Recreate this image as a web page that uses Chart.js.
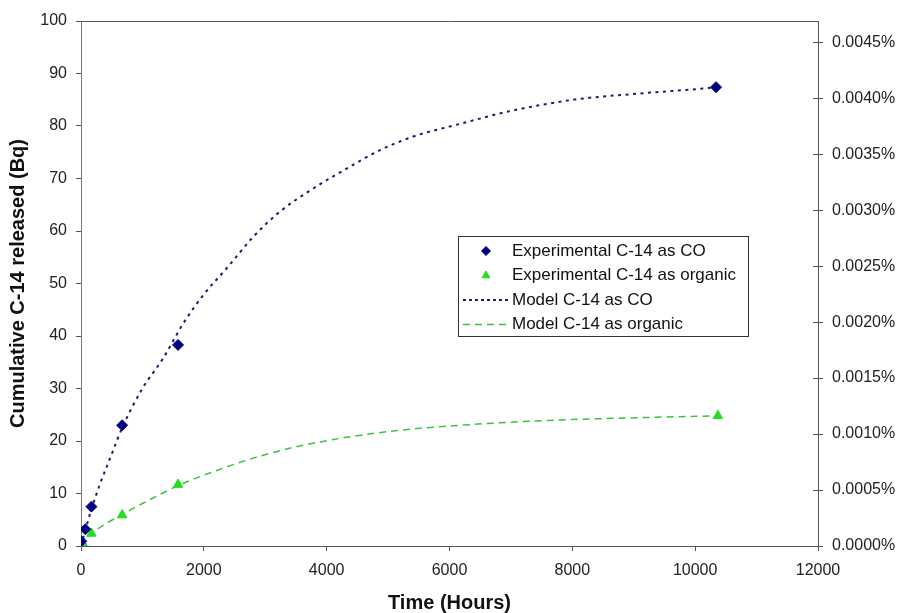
<!DOCTYPE html>
<html><head><meta charset="utf-8">
<script src="https://cdn.jsdelivr.net/npm/chart.js@4.4.1/dist/chart.umd.min.js"></script>
<style>html,body{margin:0;padding:0;background:#fff;}#wrap{width:903px;height:613px;position:relative;}</style>
</head><body><div id="wrap"><canvas id="c" width="903" height="613"></canvas></div>
<script>
// ---- data ----
const coExpTimes = [5, 70, 170, 670, 1580, 10340];
const coExpValues = [0.9, 3.2, 7.5, 23.0, 38.3, 87.4];
const orgExpTimes = [25, 170, 670, 1580, 10370];
const orgExpValues = [0.6, 2.4, 5.9, 11.7, 24.8];
const coModelTimes = [0, 70, 170, 300, 500, 670, 1000, 1340, 1666, 1991, 2372, 2806, 3240, 3782, 4326, 4868, 5410, 5899, 6170, 6931, 8016, 9101, 10187, 10340];
const coModelValues = [0, 3.0, 7.0, 11.5, 17.5, 22.5, 30.0, 35.8, 42.4, 47.8, 52.9, 58.9, 63.7, 68.1, 71.9, 75.4, 78.0, 79.6, 80.4, 82.7, 85.0, 86.2, 87.2, 87.4];
const orgModelTimes = [0, 30, 170, 400, 670, 1000, 1300, 1580, 2050, 2738, 3427, 4116, 5150, 6183, 7560, 8937, 10370];
const orgModelValues = [0, 0.4, 2.3, 4.2, 6.0, 8.1, 9.9, 11.5, 13.7, 16.5, 18.7, 20.3, 22.0, 23.0, 23.9, 24.4, 24.8];
const seriesLabels = ['Experimental C-14 as CO', 'Experimental C-14 as organic', 'Model C-14 as CO', 'Model C-14 as organic'];
const xTicks = [0, 2000, 4000, 6000, 8000, 10000, 12000];
const yTicks = [0, 10, 20, 30, 40, 50, 60, 70, 80, 90, 100];
const y2Ticks = [0, 0.0005, 0.0010, 0.0015, 0.0020, 0.0025, 0.0030, 0.0035, 0.0040, 0.0045];
const y2Max = 0.00469; // percent equivalent of 100 Bq

const pts = (xs, ys) => xs.map((x, i) => ({x, y: ys[i]}));
const FONT = "'Liberation Sans', Arial, sans-serif";
const AXIS = '#555';

const setTicks = arr => (s) => { s.ticks = arr.map(v => ({value: v})); };

const extras = {
  id: 'extras',
  afterDraw(chart) {
    const {ctx, chartArea: a} = chart;
    ctx.save();
    // top frame line
    ctx.strokeStyle = AXIS; ctx.lineWidth = 1;
    ctx.beginPath(); ctx.moveTo(a.left, a.top + 0.5); ctx.lineTo(a.right, a.top + 0.5); ctx.stroke();
    // inner half of right-axis cross ticks
    const s = chart.scales.y2;
    ctx.beginPath();
    s.ticks.forEach(t => { const y = Math.round(s.getPixelForValue(t.value)) + 0.5; ctx.moveTo(a.right - 5, y); ctx.lineTo(a.right, y); });
    ctx.stroke();
    // legend
    const L = {left: 458.5, top: 236.5, right: 748.5, bottom: 336.5};
    ctx.fillStyle = '#fff';
    ctx.fillRect(L.left, L.top, L.right - L.left, L.bottom - L.top);
    ctx.strokeStyle = '#333'; ctx.lineWidth = 1;
    ctx.strokeRect(L.left, L.top, L.right - L.left, L.bottom - L.top);
    const rows = [251, 275.5, 300, 324.5];
    ctx.font = '17px ' + FONT; ctx.textBaseline = 'middle'; ctx.fillStyle = '#111';
    chart.data.datasets.forEach((ds, i) => {
      const y = rows[i];
      if (ds.showLine) {
        ctx.save();
        ctx.strokeStyle = ds.borderColor; ctx.lineWidth = ds.borderWidth;
        ctx.setLineDash(ds.legendDash);
        ctx.beginPath(); ctx.moveTo(463, y); ctx.lineTo(508, y); ctx.stroke();
        ctx.restore();
      } else {
        ctx.save();
        ctx.fillStyle = ds.pointBackgroundColor; ctx.strokeStyle = ds.pointBorderColor;
        Chart.helpers.drawPoint(ctx, {pointStyle: ds.pointStyle, radius: 4.5, rotation: 0, borderWidth: 1}, 486, y);
        ctx.restore();
      }
      ctx.fillStyle = '#111';
      ctx.fillText(ds.label, 512, y);
    });
    ctx.restore();
  }
};

new Chart(document.getElementById('c'), {
  type: 'scatter',
  data: {
    datasets: [
      {label: seriesLabels[0], data: pts(coExpTimes, coExpValues), pointStyle: 'rectRot', pointRadius: 5.5,
       pointBackgroundColor: '#000080', pointBorderColor: '#000080', borderColor: '#000080', pointBorderWidth: 1, showLine: false},
      {label: seriesLabels[1], data: pts(orgExpTimes, orgExpValues), pointStyle: 'triangle', pointRadius: 5.5,
       pointBackgroundColor: '#22dd22', pointBorderColor: '#22dd22', borderColor: '#22dd22', pointBorderWidth: 1, showLine: false},
      {label: seriesLabels[2], data: pts(coModelTimes, coModelValues), showLine: true, pointRadius: 0,
       borderColor: '#1c1c72', borderWidth: 2, borderDash: [3, 4.5], legendDash: [3, 3], cubicInterpolationMode: 'monotone', fill: false},
      {label: seriesLabels[3], data: pts(orgModelTimes, orgModelValues), showLine: true, pointRadius: 0,
       borderColor: '#3cc43c', borderWidth: 1.5, borderDash: [7, 5], legendDash: [7, 5], cubicInterpolationMode: 'monotone', fill: false}
    ]
  },
  options: {
    responsive: false, animation: false,
    layout: {padding: {top: 21, left: 0, right: 0, bottom: 0}},
    plugins: {legend: {display: false}, tooltip: {enabled: false}},
    scales: {
      x: {
        type: 'linear', position: 'bottom', min: 0, max: 12000,
        afterBuildTicks: setTicks(xTicks),
        afterFit(s) { s.height = 67; },
        grid: {drawOnChartArea: false, drawTicks: true, tickLength: 5, color: AXIS},
        border: {display: true, color: AXIS, width: 1},
        ticks: {color: '#222', font: {family: FONT, size: 16}, padding: 10, maxRotation: 0, callback: v => String(v)},
        title: {display: true, text: 'Time (Hours)', color: '#111', font: {family: FONT, size: 20, weight: 'bold'}, padding: {top: 0, bottom: -2}}
      },
      y: {
        type: 'linear', position: 'left', min: 0, max: 100,
        afterBuildTicks: setTicks(yTicks),
        afterFit(s) { s.width = 81; },
        grid: {drawOnChartArea: false, drawTicks: true, tickLength: 5, color: AXIS},
        border: {display: true, color: '#777', width: 1},
        ticks: {color: '#222', font: {family: FONT, size: 16}, padding: 9, callback: v => String(v)},
        title: {display: true, text: 'Cumulative C-14 released (Bq)', color: '#111', font: {family: FONT, size: 20, weight: 'bold'}, padding: {top: 6, bottom: 0}}
      },
      y2: {
        type: 'linear', position: 'right', min: 0, max: y2Max,
        afterBuildTicks: setTicks(y2Ticks),
        afterFit(s) { s.width = 85; },
        grid: {drawOnChartArea: false, drawTicks: true, tickLength: 5, color: AXIS},
        border: {display: true, color: AXIS, width: 1},
        ticks: {color: '#222', font: {family: FONT, size: 16}, padding: 9, callback: v => v.toFixed(4) + '%'}
      }
    }
  },
  plugins: [extras]
});
</script></body></html>
